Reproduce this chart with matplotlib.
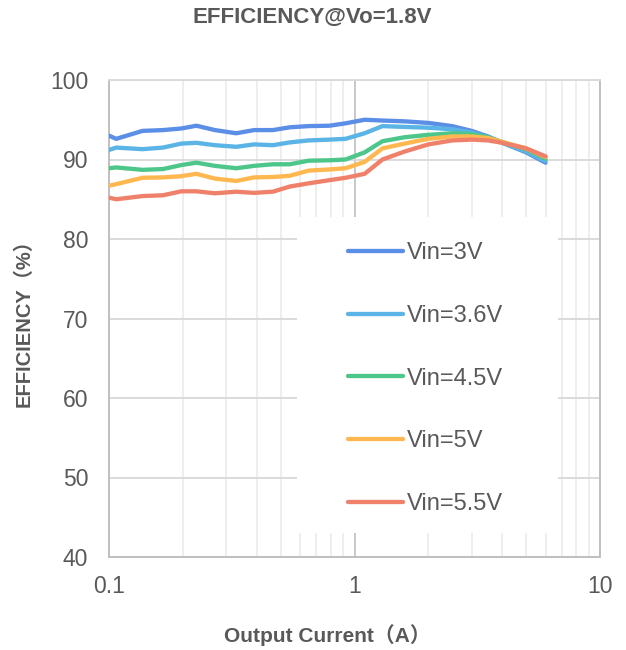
import matplotlib
matplotlib.use('Agg')
import matplotlib.pyplot as plt
from matplotlib.patches import Rectangle
from matplotlib.ticker import FixedLocator, NullFormatter

plt.rcParams['font.family'] = ['Liberation Sans', 'Noto Sans CJK SC', 'DejaVu Sans']

# ── data ─────────────────────────────────────────────────────────────────────
current = [0.1, 0.107, 0.137, 0.166, 0.197, 0.227, 0.27, 0.33, 0.39, 0.465,
           0.545, 0.65, 0.79, 0.92, 1.1, 1.3, 1.6, 2.0, 2.5, 3.0, 3.5, 4.0,
           5.0, 6.0]

eff_3v0 = [93.0, 92.6, 93.6, 93.7, 93.9, 94.25, 93.7, 93.3, 93.7, 93.7,
           94.05, 94.2, 94.25, 94.55, 95.0, 94.9, 94.8, 94.6, 94.2, 93.6,
           92.9, 92.1, 90.9, 89.6]
eff_3v6 = [91.2, 91.5, 91.3, 91.5, 92.0, 92.1, 91.8, 91.6, 91.9, 91.8,
           92.15, 92.4, 92.5, 92.6, 93.3, 94.2, 94.1, 94.0, 93.8, 93.4,
           92.8, 92.1, 91.0, 89.8]
eff_4v5 = [88.9, 89.0, 88.7, 88.8, 89.3, 89.6, 89.2, 88.9, 89.2, 89.4,
           89.4, 89.85, 89.9, 90.0, 90.9, 92.3, 92.8, 93.1, 93.3, 93.2,
           92.8, 92.2, 91.3, 90.1]
eff_5v0 = [86.7, 86.9, 87.7, 87.75, 87.9, 88.2, 87.6, 87.3, 87.75, 87.8,
           87.95, 88.6, 88.75, 88.9, 89.7, 91.4, 92.0, 92.6, 92.9, 92.9,
           92.7, 92.2, 91.4, 90.3]
eff_5v5 = [85.2, 85.0, 85.4, 85.5, 86.0, 86.0, 85.75, 85.95, 85.8, 85.95,
           86.6, 87.0, 87.4, 87.7, 88.2, 90.0, 91.0, 91.9, 92.4, 92.5,
           92.4, 92.1, 91.4, 90.4]

labels = ['Vin=3V', 'Vin=3.6V', 'Vin=4.5V', 'Vin=5V', 'Vin=5.5V']
colors = ['#5B8EE6', '#5AB4E5', '#4DC68A', '#FFB74F', '#EF816B']
y_ticks = [40, 50, 60, 70, 80, 90, 100]
x_ticks = [0.1, 1, 10]
x_ticklabels = ['0.1', '1', '10']

TXT = '#595959'

# ── figure ───────────────────────────────────────────────────────────────────
fig = plt.figure(figsize=(6.26, 6.5), dpi=100)
ax = fig.add_axes([109 / 626, 93 / 650, 491 / 626, 477 / 650])
ax.set_xscale('log')
ax.set_xlim(0.1, 10)
ax.set_ylim(40, 100)
ax.set_axisbelow(True)

# grid: light minor verticals, darker decade lines, horizontal every 10
minor_x = [m * d for d in (0.1, 1) for m in range(2, 10)]
ax.xaxis.set_minor_locator(FixedLocator(minor_x))
ax.xaxis.set_minor_formatter(NullFormatter())
ax.xaxis.set_major_locator(FixedLocator(x_ticks))
ax.set_xticklabels(x_ticklabels)
ax.set_yticks(y_ticks)
ax.grid(which='minor', axis='x', color='#EEEEEE', lw=1.4)
ax.grid(which='major', axis='x', color='#C8C8C8', lw=1.4)
ax.grid(which='major', axis='y', color='#DADADA', lw=1.4)

for side in ['left', 'bottom', 'right']:
    ax.spines[side].set_color('#C0C0C0')
    ax.spines[side].set_linewidth(1.4)
ax.spines['top'].set_color('#DADADA')
ax.spines['top'].set_linewidth(1.4)

ax.tick_params(which='both', length=0, labelsize=16.5, labelcolor=TXT)
ax.tick_params(axis='x', pad=13)
ax.tick_params(axis='y', pad=15)

# legend background (white, frameless)
ax.add_patch(Rectangle((0.383, 0.050), 0.531, 0.663, transform=ax.transAxes,
                       facecolor='white', edgecolor='none', zorder=1))

series = [eff_3v0, eff_3v6, eff_4v5, eff_5v0, eff_5v5]
for vals, lab, col in zip(series, labels, colors):
    ax.plot(current, vals, color=col, lw=3.1, label=lab, zorder=3,
            solid_joinstyle='round', solid_capstyle='round')

leg = ax.legend(loc='upper left', bbox_to_anchor=(0.487, 0.6595), frameon=False,
                fontsize=17, labelcolor=TXT, handlelength=2.33, handletextpad=0.17,
                labelspacing=1.72, borderpad=0, borderaxespad=0)

fig.text(0.499, 1 - 22.7 / 650, 'EFFICIENCY@Vo=1.8V', ha='center', va='baseline',
         fontsize=16, fontweight='bold', color=TXT)
fig.text(327 / 626, 1 - 642 / 650, 'Output Current（A）', ha='center', va='baseline',
         fontsize=15, fontweight='bold', color=TXT)
fig.text(24 / 626, 1 - 318.5 / 650, 'EFFICIENCY（%）', ha='center', va='center',
         rotation=90, fontsize=14.5, fontweight='bold', color=TXT)

fig.savefig('out.png', dpi=100, facecolor='white')
